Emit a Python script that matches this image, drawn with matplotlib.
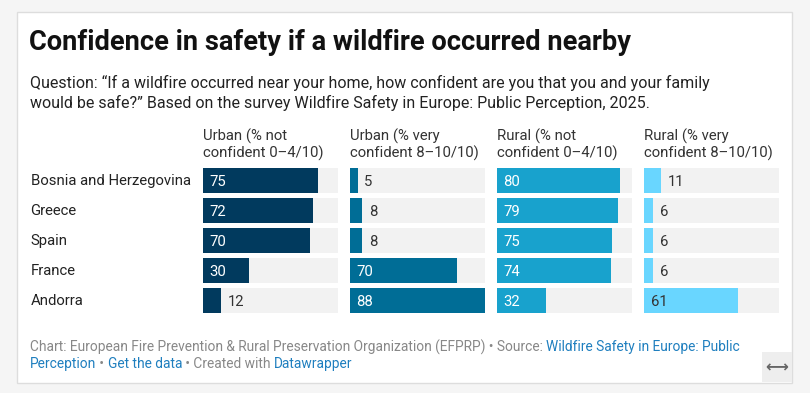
import matplotlib
matplotlib.use("Agg")
import matplotlib.pyplot as plt
from matplotlib.patches import Rectangle

# data
countries = ["Bosnia and Herzegovina", "Greece", "Spain", "France", "Andorra"]
urban_not_confident = [75, 72, 70, 30, 12]
urban_very_confident = [5, 8, 8, 70, 88]
rural_not_confident = [80, 79, 75, 74, 32]
rural_very_confident = [11, 6, 6, 6, 61]
column_headers = [
    "Urban (% not\nconfident 0\u20134/10)",
    "Urban (% very\nconfident 8\u201310/10)",
    "Rural (% not\nconfident 0\u20134/10)",
    "Rural (% very\nconfident 8\u201310/10)",
]
column_colors = ["#013a5e", "#006d96", "#18a2cd", "#69d6ff"]
label_colors = ["white", "white", "white", "#333333"]

title = "Confidence in safety if a wildfire occurred nearby"
subtitle = ("Question: \u201cIf a wildfire occurred near your home, how confident are you that you and your family\n"
            "would be safe?\u201d Based on the survey Wildfire Safety in Europe: Public Perception, 2025.")

W, H = 810, 393
plt.rcParams['font.family'] = ['Roboto', 'DejaVu Sans']

fig = plt.figure(figsize=(W / 100, H / 100), dpi=100)
fig.patch.set_facecolor("#f5f5f5")


def fx(x):
    return x / W


def fy(y):
    return 1 - y / H


def pt(px):
    return px * 0.72


# white card behind everything
fig.add_artist(Rectangle((fx(16.5), fy(382.5)), (792 - 16.5) / W, (382.5 - 11.5) / H,
                         transform=fig.transFigure, facecolor="white",
                         edgecolor="#dddddd", linewidth=1, zorder=-10))
# resize toggle
fig.add_artist(Rectangle((fx(762), fy(382)), 30 / W, 30 / H, transform=fig.transFigure,
                         facecolor="#eeeeee", edgecolor="none", zorder=-5))
fig.text(fx(777), fy(367.5), "\u27f7", ha="center", va="center", fontsize=pt(16),
         color="#666666", fontweight="bold", family=['DejaVu Sans'])

fig.text(fx(29), fy(50.5), title, fontsize=pt(27.2), fontweight="bold", color="#111111",
         va="baseline")
# multi-line text: baseline refers to the last line
fig.text(fx(29.5), fy(108), subtitle, fontsize=pt(16), color="#222222", va="baseline",
         linespacing=1.28)

all_values = [urban_not_confident, urban_very_confident, rural_not_confident, rural_very_confident]
col_left = [203, 350, 497, 644]
col_w = 135
top, bottom = 165.3, 315.3
xmax = max(max(v) for v in all_values)

for i in range(len(countries)):
    fig.text(fx(30.5), fy(top + 15 + 30 * i + 5), countries[i], fontsize=pt(14.9),
             color="#222222", va="baseline")

for c, vals in enumerate(all_values):
    ax = fig.add_axes([fx(col_left[c]), fy(bottom), col_w / W, (bottom - top) / H])
    ax.set_xlim(0, xmax)
    ax.set_ylim(len(countries) - 0.5, -0.5)
    ax.axis("off")
    ypos = list(range(len(vals)))
    ax.barh(ypos, [xmax] * len(vals), height=25 / 30, color="#f2f2f2", left=0)
    ax.barh(ypos, vals, height=25 / 30, color=column_colors[c])
    px_per_unit = col_w / xmax
    for j, v in enumerate(vals):
        if v * px_per_unit > 30:
            ax.annotate(str(v), (0, j), xytext=(6.5 * 0.72, 0), textcoords="offset points",
                        va="center_baseline", ha="left", fontsize=pt(14.9),
                        color=label_colors[c])
        else:
            ax.annotate(str(v), (v, j), xytext=(6.5 * 0.72, 0), textcoords="offset points",
                        va="center_baseline", ha="left", fontsize=pt(14.9),
                        color="#333333")
    fig.text(fx(col_left[c]), fy(157.3), column_headers[c], fontsize=pt(14.9), color="#333333",
             va="baseline", linespacing=1.13)

# footer with links in blue
gray, blue = "#888888", "#1f7fbf"
footer_lines = [
    [("Chart: European Fire Prevention & Rural Preservation Organization (EFPRP) \u2022 Source: ", gray),
     ("Wildfire Safety in Europe: Public", blue)],
    [("Perception", blue), (" \u2022 ", gray), ("Get the data", blue), (" \u2022 Created with ", gray),
     ("Datawrapper", blue)],
]
renderer = fig.canvas.get_renderer()
for line_no, pieces in enumerate(footer_lines):
    x = 30
    y = 351.5 + 16.5 * line_no
    for s, col in pieces:
        t = fig.text(fx(x), fy(y), s, fontsize=pt(13.7), color=col, va="baseline")
        bb = t.get_window_extent(renderer)
        x += bb.width

fig.savefig("out.png", dpi=100, facecolor=fig.get_facecolor())
